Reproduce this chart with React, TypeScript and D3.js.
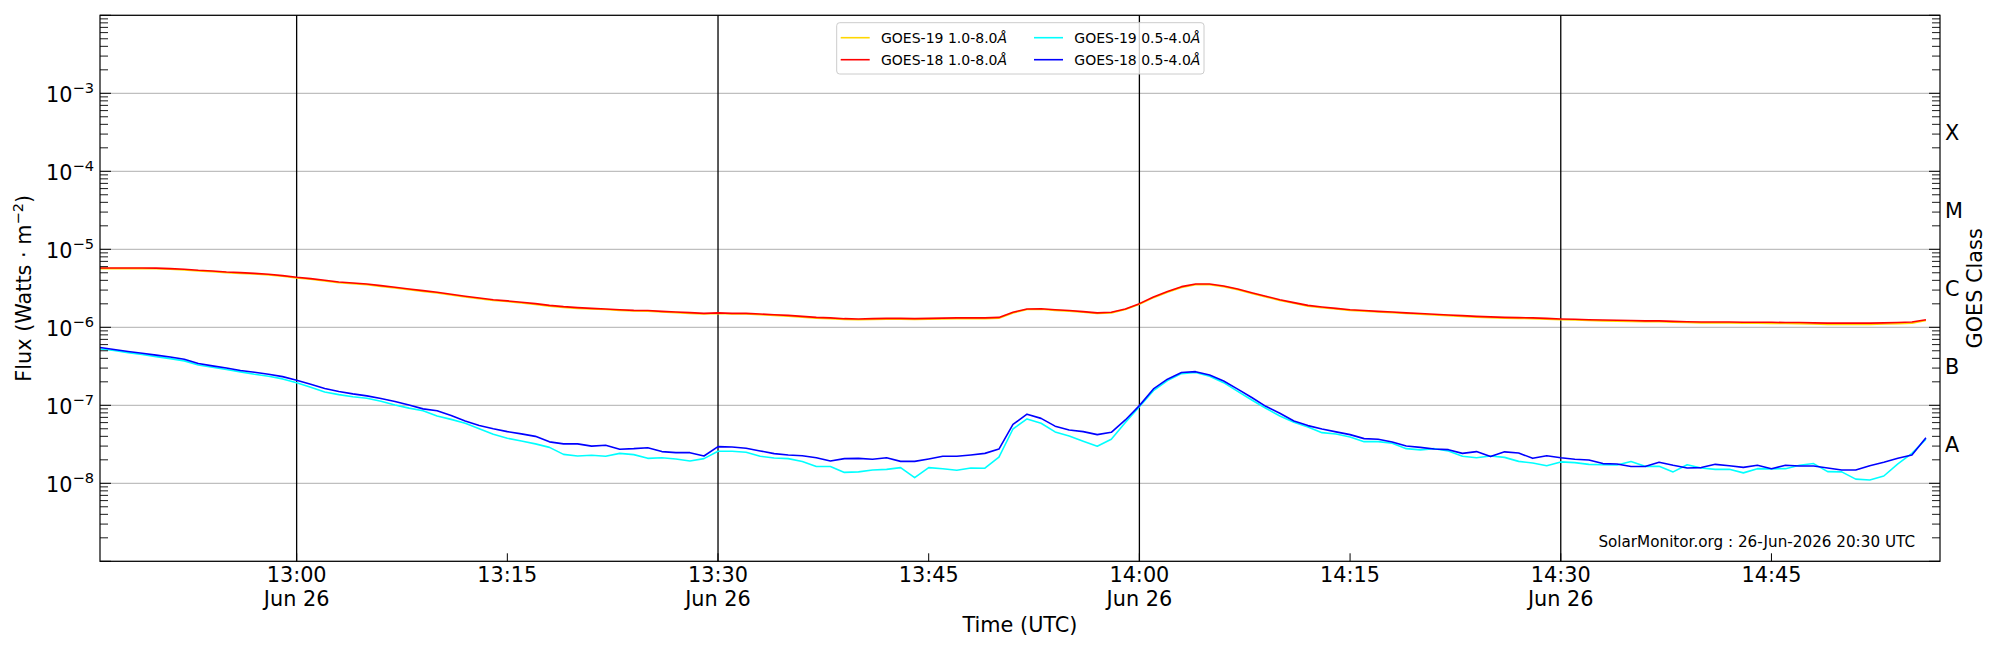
import * as d3 from "d3";
import { useEffect, useRef } from "react";

// one sample per minute, 12:46 -> 14:56 UTC, 26 Jun 2026
const startTime = new Date(Date.UTC(2026, 5, 26, 12, 46));
const endTime = new Date(Date.UTC(2026, 5, 26, 14, 57));
const times = d3.utcMinute.range(startTime, endTime);

const LONG_UNIT = 1e-6; // 1.0-8.0 A channels are listed in 1e-6 W/m^2
const SHORT_UNIT = 1e-8; // 0.5-4.0 A channels are listed in 1e-8 W/m^2

const goes19Long = [
  5.66, 5.66, 5.66, 5.66, 5.63, 5.54, 5.43, 5.27, 5.17, 5.02,
  4.92, 4.82, 4.68, 4.51, 4.29, 4.13, 3.93, 3.73, 3.63, 3.52,
  3.35, 3.19, 3.04, 2.89, 2.75, 2.6, 2.45, 2.33, 2.21, 2.14,
  2.05, 1.97, 1.87, 1.8, 1.75, 1.72, 1.69, 1.65, 1.62, 1.61,
  1.57, 1.54, 1.51, 1.48, 1.5, 1.48, 1.48, 1.45, 1.42, 1.39,
  1.35, 1.31, 1.29, 1.26, 1.25, 1.26, 1.27, 1.27, 1.26, 1.27,
  1.28, 1.29, 1.29, 1.29, 1.31, 1.53, 1.69, 1.7, 1.65, 1.61,
  1.56, 1.5, 1.53, 1.69, 1.97, 2.4, 2.81, 3.25, 3.52, 3.52,
  3.32, 3.04, 2.72, 2.45, 2.21, 2.03, 1.87, 1.78, 1.72, 1.65,
  1.61, 1.57, 1.54, 1.5, 1.47, 1.44, 1.41, 1.38, 1.35, 1.33,
  1.31, 1.3, 1.29, 1.27, 1.25, 1.24, 1.22, 1.21, 1.2, 1.19,
  1.18, 1.18, 1.16, 1.15, 1.14, 1.14, 1.14, 1.13, 1.13, 1.12,
  1.12, 1.11, 1.1, 1.09, 1.09, 1.09, 1.09, 1.1, 1.11, 1.13,
  1.22,
];

const goes18Long = [
  5.77, 5.77, 5.77, 5.77, 5.74, 5.65, 5.54, 5.38, 5.28, 5.12,
  5.02, 4.92, 4.78, 4.6, 4.38, 4.21, 4.01, 3.81, 3.7, 3.59,
  3.42, 3.26, 3.1, 2.95, 2.81, 2.65, 2.5, 2.38, 2.26, 2.18,
  2.09, 2.01, 1.91, 1.84, 1.79, 1.75, 1.72, 1.68, 1.65, 1.64,
  1.6, 1.57, 1.54, 1.51, 1.53, 1.51, 1.51, 1.48, 1.45, 1.42,
  1.38, 1.34, 1.32, 1.29, 1.28, 1.29, 1.3, 1.3, 1.29, 1.3,
  1.31, 1.32, 1.32, 1.32, 1.34, 1.56, 1.72, 1.73, 1.68, 1.64,
  1.59, 1.53, 1.56, 1.72, 2.01, 2.45, 2.87, 3.32, 3.59, 3.59,
  3.39, 3.1, 2.78, 2.5, 2.26, 2.07, 1.91, 1.82, 1.75, 1.68,
  1.64, 1.6, 1.57, 1.53, 1.5, 1.47, 1.44, 1.41, 1.38, 1.36,
  1.34, 1.33, 1.32, 1.3, 1.28, 1.27, 1.25, 1.24, 1.23, 1.22,
  1.21, 1.21, 1.19, 1.18, 1.17, 1.17, 1.17, 1.16, 1.16, 1.16,
  1.15, 1.15, 1.14, 1.13, 1.13, 1.13, 1.13, 1.14, 1.15, 1.17,
  1.25,
];

const goes19Short = [
  52.8, 50.3, 47.4, 44.7, 42.1, 39.7, 37.1, 32.9, 30.8, 28.7,
  26.8, 25, 23.6, 21.8, 19.4, 17, 14.8, 13.7, 12.9, 12.3,
  11.3, 10.1, 9.2, 8.5, 7.3, 6.6, 5.88, 5.02, 4.25, 3.78,
  3.49, 3.2, 2.89, 2.35, 2.24, 2.29, 2.22, 2.42, 2.33, 2.09,
  2.13, 2.05, 1.93, 2.07, 2.57, 2.57, 2.5, 2.22, 2.11, 2.07,
  1.9, 1.64, 1.64, 1.38, 1.4, 1.48, 1.51, 1.59, 1.18, 1.59,
  1.54, 1.47, 1.57, 1.56, 2.17, 4.97, 6.69, 5.88, 4.56, 4.04,
  3.46, 2.98, 3.67, 6.0, 9.62, 15.4, 20.7, 25.5, 26.3, 23.6,
  19.5, 15.1, 11.7, 9.15, 7.3, 6.06, 5.28, 4.46, 4.29, 3.93,
  3.42, 3.42, 3.26, 2.78, 2.68, 2.78, 2.6, 2.22, 2.13, 2.24,
  2.15, 1.91, 1.82, 1.68, 1.88, 1.84, 1.75, 1.73, 1.72, 1.9,
  1.65, 1.65, 1.4, 1.73, 1.57, 1.51, 1.51, 1.36, 1.54, 1.53,
  1.54, 1.7, 1.79, 1.41, 1.4, 1.13, 1.1, 1.24, 1.77, 2.42,
  3.67,
];

const goes18Short = [
  55, 52, 49, 46.5, 44, 41.7, 38.9, 34.3, 32, 30.1,
  27.9, 26.5, 25, 23.3, 20.9, 18.6, 16.4, 15, 14, 13.2,
  12.2, 11.2, 10.1, 9.0, 8.5, 7.4, 6.3, 5.5, 5.0, 4.6,
  4.3, 4.0, 3.4, 3.2, 3.2, 3.0, 3.07, 2.73, 2.78, 2.86,
  2.55, 2.47, 2.47, 2.24, 2.95, 2.92, 2.81, 2.6, 2.4, 2.31,
  2.26, 2.13, 1.93, 2.07, 2.09, 2.03, 2.13, 1.91, 1.91, 2.05,
  2.22, 2.22, 2.31, 2.42, 2.75, 5.7, 7.7, 6.8, 5.4, 4.83,
  4.6, 4.21, 4.51, 6.49, 9.9, 16.2, 21.6, 26.3, 27, 24.5,
  20.5, 16.1, 12.6, 9.7, 7.9, 6.3, 5.49, 4.97, 4.56, 4.21,
  3.74, 3.67, 3.39, 3.01, 2.89, 2.75, 2.7, 2.42, 2.55, 2.2,
  2.53, 2.45, 2.09, 2.26, 2.13, 2.03, 1.99, 1.79, 1.77, 1.64,
  1.64, 1.86, 1.7, 1.57, 1.59, 1.75, 1.68, 1.6, 1.7, 1.54,
  1.7, 1.67, 1.67, 1.57, 1.48, 1.48, 1.68, 1.86, 2.09, 2.31,
  3.85,
];

const series = [
  { label: "GOES-19 1.0-8.0", values: goes19Long, unit: LONG_UNIT, color: "#ffd700" },
  { label: "GOES-18 1.0-8.0", values: goes18Long, unit: LONG_UNIT, color: "#ff0000" },
  { label: "GOES-19 0.5-4.0", values: goes19Short, unit: SHORT_UNIT, color: "#00ffff" },
  { label: "GOES-18 0.5-4.0", values: goes18Short, unit: SHORT_UNIT, color: "#0000ff" },
];

const majorTimes = [
  new Date(Date.UTC(2026, 5, 26, 13, 0)),
  new Date(Date.UTC(2026, 5, 26, 13, 30)),
  new Date(Date.UTC(2026, 5, 26, 14, 0)),
  new Date(Date.UTC(2026, 5, 26, 14, 30)),
];
const minorTimes = [
  new Date(Date.UTC(2026, 5, 26, 13, 15)),
  new Date(Date.UTC(2026, 5, 26, 13, 45)),
  new Date(Date.UTC(2026, 5, 26, 14, 15)),
  new Date(Date.UTC(2026, 5, 26, 14, 45)),
];

const decadeExponents = [-9, -8, -7, -6, -5, -4, -3, -2];
const labelledExponents = [-8, -7, -6, -5, -4, -3];
const goesClasses = ["A", "B", "C", "M", "X"];
const classFloors = [1e-8, 1e-7, 1e-6, 1e-5, 1e-4];

const stamp = "SolarMonitor.org : 26-Jun-2026 20:30 UTC";
const FONT = "DejaVu Sans, sans-serif";
const LABEL_SIZE = "20.8px";

export default function App() {
  const svgRef = useRef<SVGSVGElement>(null);

  useEffect(() => {
    if (!svgRef.current) return;
    const root = d3.select(svgRef.current);
    root.selectAll("*").remove();

    const W = 2000;
    const H = 650;
    const margin = { top: 15.3, right: 60, bottom: 88.7, left: 100 };
    const width = W - margin.left - margin.right;
    const height = H - margin.top - margin.bottom;

    root.append("rect").attr("width", W).attr("height", H).attr("fill", "white");

    const g = root
      .append("g")
      .attr("transform", `translate(${margin.left},${margin.top})`)
      .style("font-family", FONT);

    const x = d3.scaleUtc().domain([startTime, endTime]).range([0, width]);
    const y = d3.scaleLog().domain([1e-9, 1e-2]).range([height, 0]);

    const decades = decadeExponents.map((e) => Math.pow(10, e));
    const minors: number[] = [];
    decadeExponents.slice(0, -1).forEach((e) => {
      for (let m = 2; m <= 9; m++) minors.push(m * Math.pow(10, e));
    });

    // horizontal grid at each decade
    g.append("g")
      .selectAll("line")
      .data(decades)
      .join("line")
      .attr("x1", 0)
      .attr("x2", width)
      .attr("y1", (d) => y(d))
      .attr("y2", (d) => y(d))
      .attr("stroke", "#b0b0b0")
      .attr("stroke-width", 1);

    // black vertical lines at every half hour
    g.append("g")
      .selectAll("line")
      .data(majorTimes)
      .join("line")
      .attr("x1", (d) => x(d))
      .attr("x2", (d) => x(d))
      .attr("y1", 0)
      .attr("y2", height)
      .attr("stroke", "black")
      .attr("stroke-width", 1.3);

    // flux curves
    g.append("clipPath")
      .attr("id", "plot-clip")
      .append("rect")
      .attr("width", width)
      .attr("height", height);

    series.forEach((s) => {
      const line = d3
        .line<number>()
        .x((_, i) => x(times[i]))
        .y((v) => y(v * s.unit));
      g.append("path")
        .datum(s.values)
        .attr("clip-path", "url(#plot-clip)")
        .attr("fill", "none")
        .attr("stroke", s.color)
        .attr("stroke-width", 1.6)
        .attr("stroke-linejoin", "round")
        .attr("d", line);
    });

    // y ticks, pointing inwards on both sides
    const tickSides = [
      { x0: 0, dir: 1 },
      { x0: width, dir: -1 },
    ];
    tickSides.forEach(({ x0, dir }) => {
      g.append("g")
        .selectAll("line")
        .data(minors)
        .join("line")
        .attr("x1", x0)
        .attr("x2", x0 + dir * 8)
        .attr("y1", (d) => y(d))
        .attr("y2", (d) => y(d))
        .attr("stroke", "black")
        .attr("stroke-width", 0.9);
      g.append("g")
        .selectAll("line")
        .data(decades)
        .join("line")
        .attr("x1", x0)
        .attr("x2", x0 + dir * 11)
        .attr("y1", (d) => y(d))
        .attr("y2", (d) => y(d))
        .attr("stroke", "black")
        .attr("stroke-width", 1);
    });

    // y tick labels 10^n
    const yLabels = g
      .append("g")
      .selectAll("text")
      .data(labelledExponents)
      .join("text")
      .attr("x", -6)
      .attr("y", (e) => y(Math.pow(10, e)) + 9)
      .attr("text-anchor", "end")
      .style("font-size", LABEL_SIZE)
      .text("10");
    yLabels
      .append("tspan")
      .attr("dy", -9.5)
      .style("font-size", "14.6px")
      .text((e) => `\u2212${Math.abs(e)}`);

    // x ticks, pointing inwards
    g.append("g")
      .selectAll("line")
      .data([...majorTimes, ...minorTimes])
      .join("line")
      .attr("x1", (d) => x(d))
      .attr("x2", (d) => x(d))
      .attr("y1", height)
      .attr("y2", height - 8)
      .attr("stroke", "black")
      .attr("stroke-width", 1);

    const hm = d3.utcFormat("%H:%M");
    const md = d3.utcFormat("%b %d");
    g.append("g")
      .selectAll("text")
      .data([...majorTimes, ...minorTimes])
      .join("text")
      .attr("x", (d) => x(d))
      .attr("y", height + 20.8)
      .attr("text-anchor", "middle")
      .style("font-size", LABEL_SIZE)
      .text((d) => hm(d));
    g.append("g")
      .selectAll("text")
      .data(majorTimes)
      .join("text")
      .attr("x", (d) => x(d))
      .attr("y", height + 44.5)
      .attr("text-anchor", "middle")
      .style("font-size", LABEL_SIZE)
      .text((d) => md(d));

    // GOES class letters on the right, centred in each decade
    g.append("g")
      .selectAll("text")
      .data(goesClasses)
      .join("text")
      .attr("x", width + 5)
      .attr("y", (_, i) => y(classFloors[i] * Math.sqrt(10)))
      .attr("dy", "0.36em")
      .style("font-size", LABEL_SIZE)
      .text((d) => d);

    // frame
    g.append("rect")
      .attr("width", width)
      .attr("height", height)
      .attr("fill", "none")
      .attr("stroke", "black")
      .attr("stroke-width", 1.2);

    // axis titles
    g.append("text")
      .attr("x", width / 2)
      .attr("y", height + 70.5)
      .attr("text-anchor", "middle")
      .style("font-size", LABEL_SIZE)
      .text("Time (UTC)");

    const yTitle = g
      .append("text")
      .attr("transform", `translate(${-69},${height / 2}) rotate(-90)`)
      .attr("text-anchor", "middle")
      .style("font-size", LABEL_SIZE);
    yTitle.append("tspan").text("Flux (Watts \u00b7 m");
    yTitle.append("tspan").attr("dy", -8).style("font-size", "14.6px").text("\u22122");
    yTitle.append("tspan").attr("dy", 8).text(")");

    g.append("text")
      .attr("transform", `translate(${width + 42},${height / 2}) rotate(-90)`)
      .attr("text-anchor", "middle")
      .style("font-size", LABEL_SIZE)
      .text("GOES Class");

    // timestamp
    g.append("text")
      .attr("x", width - 25)
      .attr("y", height - 14)
      .attr("text-anchor", "end")
      .style("font-size", "15.2px")
      .text(stamp);

    // legend
    const legend = g.append("g").attr("transform", `translate(${736.7},${7.4})`);
    legend
      .append("rect")
      .attr("width", 367.3)
      .attr("height", 51.3)
      .attr("rx", 3)
      .attr("fill", "white")
      .attr("fill-opacity", 0.8)
      .attr("stroke", "#cccccc")
      .attr("stroke-width", 1);

    const entry = legend
      .selectAll("g.entry")
      .data(series)
      .join("g")
      .attr("class", "entry")
      .attr(
        "transform",
        (_, i) => `translate(${Math.floor(i / 2) * 193.3 + 4},${(i % 2) * 22 + 15})`,
      );
    entry
      .append("line")
      .attr("x1", 0)
      .attr("x2", 29)
      .attr("stroke", (d) => d.color)
      .attr("stroke-width", 1.6);
    const entryText = entry
      .append("text")
      .attr("x", 40.3)
      .attr("dy", "0.36em")
      .style("font-size", "14px")
      .text((d) => d.label);
    entryText.append("tspan").style("font-style", "italic").text("\u00c5");
  }, []);

  return (
    <svg
      ref={svgRef}
      width={2000}
      height={650}
      style={{ position: "absolute", left: 0, top: 0, display: "block" }}
    />
  );
}
